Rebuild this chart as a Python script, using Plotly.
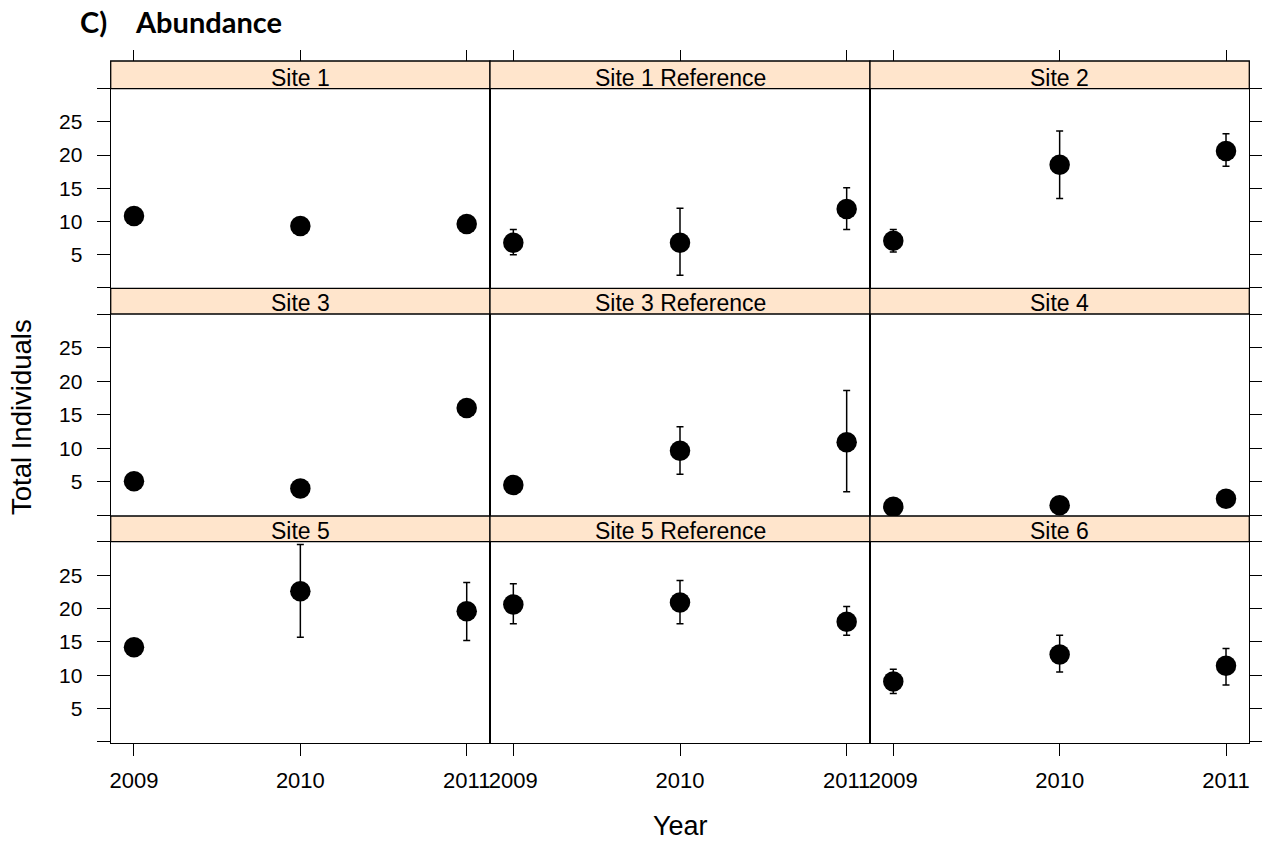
import plotly.graph_objects as go

# ---------------- data ----------------
years = [2009, 2010, 2011]
sites = ["Site 1", "Site 1 Reference", "Site 2",
         "Site 3", "Site 3 Reference", "Site 4",
         "Site 5", "Site 5 Reference", "Site 6"]
means = [
    [10.8, 9.3, 9.6],
    [6.75, 6.75, 11.85],
    [7.05, 18.55, 20.6],
    [5.05, 4.0, 16.0],
    [4.5, 9.6, 10.9],
    [1.26, 1.5, 2.46],
    [14.2, 22.6, 19.6],
    [20.6, 20.9, 18.0],
    [9.06, 13.1, 11.4],
]
upper = [
    [11.4, 9.9, 10.2],
    [8.75, 11.95, 15.05],
    [8.75, 23.65, 23.2],
    [5.6, 4.6, 16.6],
    [5.1, 13.2, 18.6],
    [1.8, 2.0, 3.0],
    [14.8, 29.6, 23.9],
    [23.7, 24.2, 20.3],
    [10.9, 16.0, 14.0],
]
lower = [
    [10.2, 8.7, 9.0],
    [4.95, 1.85, 8.75],
    [5.35, 13.45, 18.3],
    [4.5, 3.4, 15.4],
    [3.9, 6.1, 3.5],
    [0.7, 1.0, 1.9],
    [13.6, 15.7, 15.2],
    [17.7, 17.7, 16.0],
    [7.25, 10.5, 8.55],
]
y_tickvals = [0, 5, 10, 15, 20, 25, 30]
y_ticktext = ["", "5", "10", "15", "20", "25", ""]

# ---------------- layout geometry (pixels of the page) ----------------
OFF = 8  # default page body margin
W, H = 1270 - OFF, 846 - OFF
col_px = [(110.7, 490.0), (490.0, 870.0), (870.0, 1249.3)]
row_px = [(88.7, 288.3), (314.0, 516.0), (541.7, 742.7)]
strip_px = [(61.0, 88.7), (288.3, 314.0), (516.0, 541.7)]
XR = [2008.86, 2011.14]
YR = [-0.12, 30.02]

def fx(px):
    return (px - OFF) / W

def fy(py):
    return 1 - (py - OFF) / H

FONT = "Liberation Sans, Arial, Helvetica, sans-serif"
fig = go.Figure()
shapes = []
annotations = []
layout = dict(width=W, height=H, margin=dict(l=0, r=0, t=0, b=0),
              paper_bgcolor="white", plot_bgcolor="white", showlegend=False,
              font=dict(family=FONT, color="black"))

for k, name in enumerate(sites):
    r, c = divmod(k, 3)
    xa = "xaxis" if k == 0 else f"xaxis{k+1}"
    ya = "yaxis" if k == 0 else f"yaxis{k+1}"
    xr = "x" if k == 0 else f"x{k+1}"
    yr = "y" if k == 0 else f"y{k+1}"
    m = means[k]
    up = [u - v for u, v in zip(upper[k], m)]
    dn = [v - l for v, l in zip(m, lower[k])]
    fig.add_trace(go.Scatter(
        x=years, y=m, mode="markers", xaxis=xr, yaxis=yr,
        marker=dict(color="black", size=20.5, symbol="circle"),
        error_y=dict(type="data", symmetric=False, array=up, arrayminus=dn,
                     color="black", thickness=1.5, width=3.5),
        hoverinfo="skip"))
    x0, x1 = col_px[c]
    y0, y1 = row_px[r]
    xdict = dict(domain=[fx(x0), fx(x1)], range=XR, anchor=yr,
                 showgrid=False, zeroline=False, showline=True, mirror=True,
                 linecolor="black", linewidth=1.3, tickvals=years,
                 ticktext=[str(v) for v in years])
    if r == 2:
        xdict.update(ticks="outside", ticklen=12, tickwidth=1.3, tickcolor="black",
                     showticklabels=True, tickfont=dict(size=22, family=FONT),
                     ticklabelstandoff=6)
    else:
        xdict.update(ticks="", showticklabels=False)
    ydict = dict(domain=[fy(y1), fy(y0)], range=YR, anchor=xr,
                 showgrid=False, zeroline=False, showline=True, mirror=True,
                 linecolor="black", linewidth=1.3, tickvals=y_tickvals,
                 ticktext=y_ticktext)
    if c == 0:
        ydict.update(ticks="outside", ticklen=13, tickwidth=1.3, tickcolor="black",
                     showticklabels=True, tickfont=dict(size=21, family=FONT),
                     ticklabelstandoff=10, side="left")
    elif c == 2:
        ydict.update(ticks="outside", ticklen=14, tickwidth=1.3, tickcolor="black",
                     showticklabels=False, side="right")
    else:
        ydict.update(ticks="", showticklabels=False)
    layout[xa] = xdict
    layout[ya] = ydict

    # strip
    s0, s1 = strip_px[r]
    shapes.append(dict(type="rect", xref="paper", yref="paper",
                       x0=fx(x0), x1=fx(x1), y0=fy(s1), y1=fy(s0),
                       fillcolor="#FFE5CC", line=dict(color="black", width=1.3),
                       layer="above"))
    annotations.append(dict(text=name, xref="paper", yref="paper",
                            x=fx((x0 + x1) / 2), y=fy(s1 - 11),
                            xanchor="center", yanchor="middle", showarrow=False,
                            font=dict(size=23, family=FONT, color="black")))

# top ticks above the strips of the top row
for c in range(3):
    k = 10 + c
    x0, x1 = col_px[c]
    base = "x" if c == 0 else f"x{c+1}"
    layout[f"xaxis{k}"] = dict(domain=[fx(x0), fx(x1)], range=XR, overlaying=base,
                               side="top", anchor="free", position=fy(strip_px[0][0]),
                               tickvals=years, ticks="outside", ticklen=11,
                               tickwidth=1.3, tickcolor="black", showticklabels=False,
                               showline=False, showgrid=False, zeroline=False)
    fig.add_trace(go.Scatter(x=years, y=[None] * 3, xaxis=f"x{k}",
                             yaxis="y" if c == 0 else f"y{c+1}",
                             mode="markers", hoverinfo="skip", showlegend=False))

# axis titles and heading
annotations.append(dict(text="Total Individuals", xref="paper", yref="paper",
                        x=fx(21.5), y=fy(417.5), textangle=-90, showarrow=False,
                        xanchor="center", yanchor="middle",
                        font=dict(size=27.5, family=FONT, color="black")))
annotations.append(dict(text="Year", xref="paper", yref="paper",
                        x=fx(680), y=fy(826), showarrow=False,
                        xanchor="center", yanchor="middle",
                        font=dict(size=27, family=FONT, color="black")))
annotations.append(dict(text="<b>C)</b>", xref="paper", yref="paper",
                        x=fx(78), y=fy(21), showarrow=False,
                        xanchor="left", yanchor="middle",
                        font=dict(size=29, family="Lato, Carlito, sans-serif", color="black")))
annotations.append(dict(text="<b>Abundance</b>", xref="paper", yref="paper",
                        x=fx(132.5), y=fy(21), showarrow=False,
                        xanchor="left", yanchor="middle",
                        font=dict(size=29, family="Lato, Carlito, sans-serif", color="black")))

layout["shapes"] = shapes
layout["annotations"] = annotations
fig.update_layout(**layout)
fig.write_html("out.html")
